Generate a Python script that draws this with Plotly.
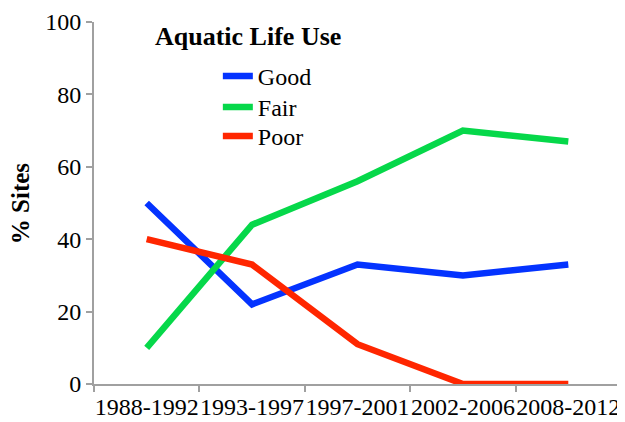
import plotly.graph_objects as go

periods = ["1988-1992", "1993-1997", "1997-2001", "2002-2006", "2008-2012"]
good = [50, 22, 33, 30, 33]
fair = [10, 44, 56, 70, 67]
poor = [40, 33, 11, 0, 0]

font = "Liberation Serif, Times New Roman, serif"
series = [("Good", good, "#0433FF", "legend"),
          ("Fair", fair, "#06D84A", "legend2"),
          ("Poor", poor, "#FF2600", "legend3")]
fig = go.Figure()
for name, vals, col, lg in series:
    fig.add_trace(go.Scatter(x=periods, y=vals, mode="lines", name=name, legend=lg,
                             line=dict(color=col, width=6.5)))

def leg(y):
    return dict(x=0.235, y=y, xanchor="left", yanchor="top",
                bgcolor="rgba(0,0,0,0)", font=dict(size=24, family=font))

fig.update_layout(
    width=617, height=414,
    margin=dict(l=86, r=4, t=14, b=38),
    paper_bgcolor="white", plot_bgcolor="white",
    font=dict(family=font, size=24, color="black"),
    showlegend=True,
    legend=leg(0.9116), legend2=leg(0.826), legend3=leg(0.746),
    annotations=[dict(text="<b>Aquatic Life Use</b>", xref="paper", yref="paper",
                      x=0.112, y=0.959, xanchor="left", yanchor="middle",
                      showarrow=False, font=dict(size=26, family=font)),
                 dict(text="<b>% Sites</b>", xref="paper", yref="paper",
                      x=-0.14, y=0.5, xanchor="center", yanchor="middle", textangle=-90,
                      showarrow=False, font=dict(size=25, family=font))],
)
fig.update_xaxes(type="category", range=[-0.5, 4.5], tickson="boundaries",
                 ticks="outside", ticklen=6, tickwidth=2, tickcolor="#A0A0A0",
                 showline=True, linecolor="#A0A0A0", linewidth=2, showgrid=False,
                 automargin=False, tickangle=0, tickfont=dict(size=24, family=font))
fig.update_yaxes(range=[0, 100], dtick=20, ticks="outside", ticklen=6, tickwidth=2,
                 tickcolor="#A0A0A0", showline=True, linecolor="#A0A0A0", linewidth=2,
                 showgrid=False, zeroline=False, automargin=False,
                 tickfont=dict(size=24, family=font))
fig.write_html("out.html")
